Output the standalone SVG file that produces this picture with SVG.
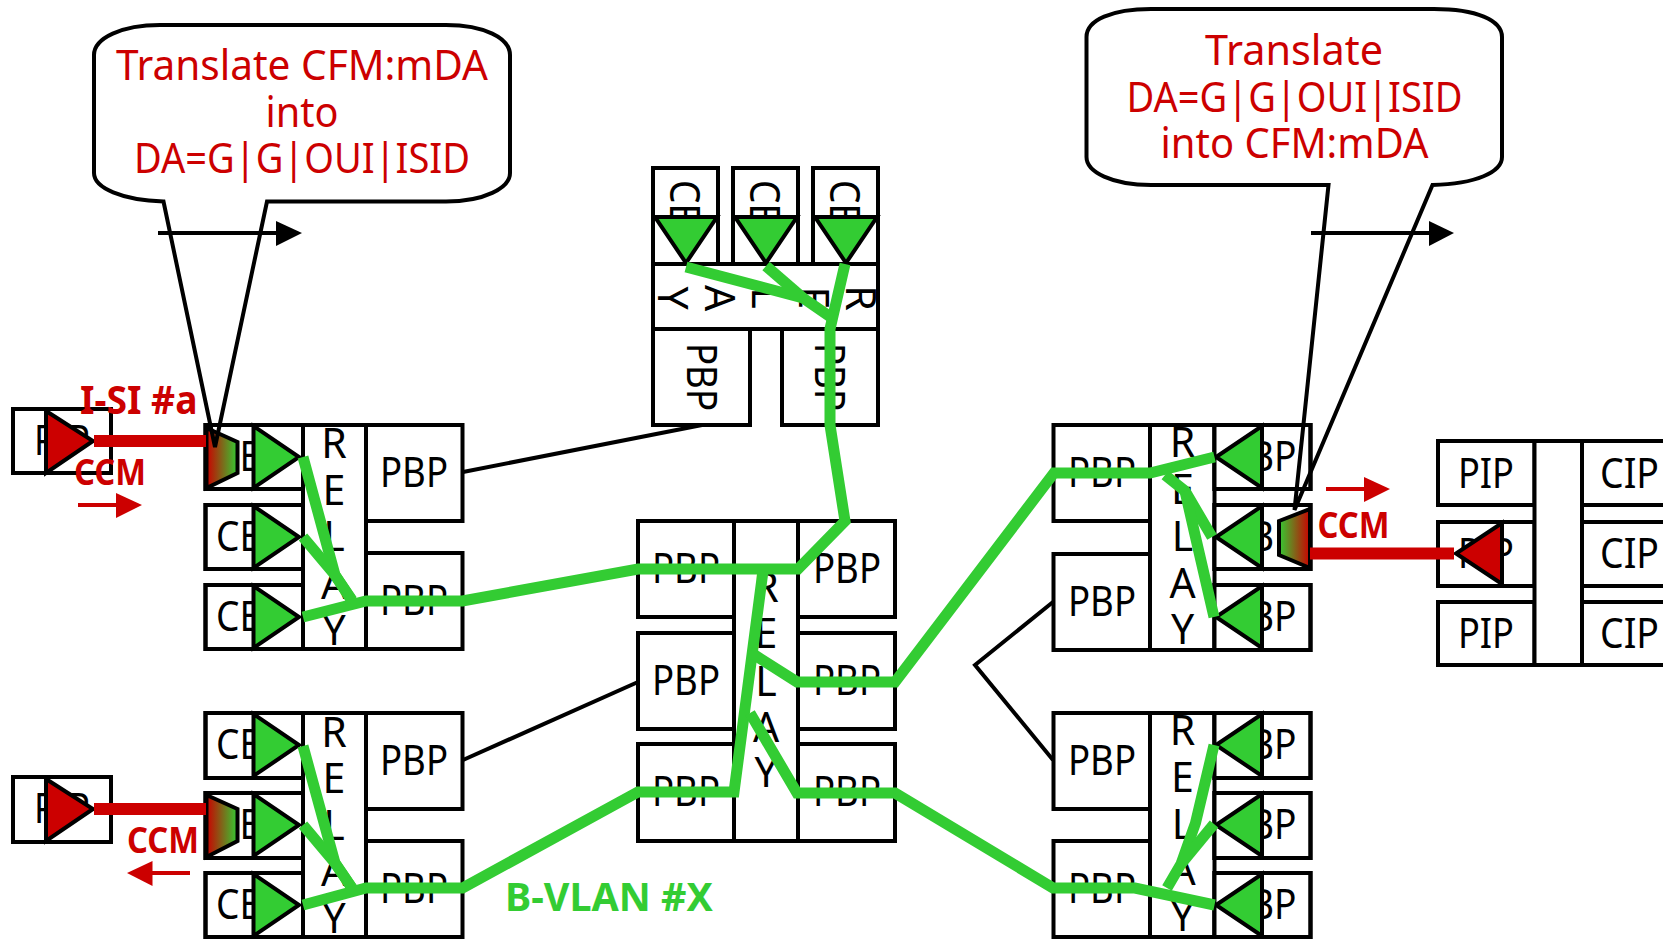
<svg xmlns="http://www.w3.org/2000/svg" width="1663" height="939" viewBox="0 0 1663 939">
<style>
rect.b{fill:#fff;stroke:#000;stroke-width:4}
rect.o{fill:none;stroke:#000;stroke-width:4}
rect.w{fill:#fff;stroke:none}
text{font-family:"Noto Sans","Liberation Sans",sans-serif;font-size:41px;fill:#000}
text.m{text-anchor:middle}
text.r{fill:#c00}
text.bd{font-weight:700;font-size:40px}
text.cc{font-size:36px}
polygon.g{fill:#3c3;stroke:#000;stroke-width:4}
polygon.red{fill:#c00;stroke:#000;stroke-width:4}
polygon.t{stroke:#000;stroke-width:4}
polyline.gl{fill:none;stroke:#3c3;stroke-width:11;stroke-linejoin:miter;stroke-miterlimit:2}
path.c{fill:none;stroke:#000;stroke-width:4}
line.k{stroke:#000;stroke-width:4}
line.rl{stroke:#c00;stroke-width:12}
line.ra{stroke:#c00;stroke-width:4}
</style>
<defs>
<linearGradient id="rg"><stop offset="0" stop-color="#c00"/><stop offset="1" stop-color="#3c3"/></linearGradient>
<linearGradient id="gr"><stop offset="0" stop-color="#3c3"/><stop offset="1" stop-color="#c00"/></linearGradient>
</defs>

<g id="pip-top-left">
<rect class="b" x="13" y="409" width="98" height="64"/>
<text x="34" y="455" textLength="56" lengthAdjust="spacingAndGlyphs">PIP</text>
<polygon class="red" points="46,411 46,473 93,441"/>
</g>
<g id="pip-bottom-left">
<rect class="b" x="13" y="777" width="98" height="65"/>
<text x="34" y="823" textLength="56" lengthAdjust="spacingAndGlyphs">PIP</text>
<polygon class="red" points="46,779 46,841 93,809"/>
</g>

<g id="bridge-top-left">
<rect class="b" x="205.500" y="425" width="97.500" height="64"/>
<text x="216" y="471" textLength="70" lengthAdjust="spacingAndGlyphs">CBP</text>
<rect class="w" x="255" y="427" width="46" height="60"/><rect class="o" x="205.500" y="425" width="97.500" height="64"/>
<polygon class="g" points="253.500,426 253.500,488 299,457"/>
<rect class="b" x="205.500" y="505" width="97.500" height="64"/>
<text x="216" y="551" textLength="70" lengthAdjust="spacingAndGlyphs">CBP</text>
<rect class="w" x="255" y="507" width="46" height="60"/><rect class="o" x="205.500" y="505" width="97.500" height="64"/>
<polygon class="g" points="253.500,506 253.500,568 299,537"/>
<rect class="b" x="205.500" y="585" width="97.500" height="64"/>
<text x="216" y="631" textLength="70" lengthAdjust="spacingAndGlyphs">CBP</text>
<rect class="w" x="255" y="587" width="46" height="60"/><rect class="o" x="205.500" y="585" width="97.500" height="64"/>
<polygon class="g" points="253.500,586 253.500,648 299,617"/>
<rect class="b" x="303" y="425" width="63" height="224"/>
<text class="m" x="334" y="458">R</text><text class="m" x="334" y="505">E</text><text class="m" x="334" y="551">L</text><text class="m" x="334" y="599">A</text><text class="m" x="334" y="645">Y</text>
<rect class="b" x="366" y="425" width="96.500" height="96"/>
<text class="m" x="414" y="487" textLength="68" lengthAdjust="spacingAndGlyphs">PBP</text>
<rect class="b" x="366" y="553" width="96.500" height="96"/>
<text class="m" x="414" y="615" textLength="68" lengthAdjust="spacingAndGlyphs">PBP</text>
<polygon class="t" fill="url(#rg)" points="206.500,428 237.500,442 237.500,473 206.500,488"/>
</g>

<g id="bridge-bottom-left">
<rect class="b" x="205.500" y="713" width="97.500" height="65"/>
<text x="216" y="759" textLength="70" lengthAdjust="spacingAndGlyphs">CBP</text>
<rect class="w" x="255" y="715" width="46" height="61"/><rect class="o" x="205.500" y="713" width="97.500" height="65"/>
<polygon class="g" points="253.500,714 253.500,776 299,745"/>
<rect class="b" x="205.500" y="793" width="97.500" height="65"/>
<text x="216" y="839" textLength="70" lengthAdjust="spacingAndGlyphs">CBP</text>
<rect class="w" x="255" y="795" width="46" height="61"/><rect class="o" x="205.500" y="793" width="97.500" height="65"/>
<polygon class="g" points="253.500,794 253.500,856 299,825"/>
<rect class="b" x="205.500" y="873" width="97.500" height="64"/>
<text x="216" y="919" textLength="70" lengthAdjust="spacingAndGlyphs">CBP</text>
<rect class="w" x="255" y="875" width="46" height="60"/><rect class="o" x="205.500" y="873" width="97.500" height="64"/>
<polygon class="g" points="253.500,874 253.500,936 299,905"/>
<rect class="b" x="303" y="713" width="63" height="224"/>
<text class="m" x="334" y="747">R</text><text class="m" x="334" y="793">E</text><text class="m" x="334" y="840">L</text><text class="m" x="334" y="886">A</text><text class="m" x="334" y="933">Y</text>
<rect class="b" x="366" y="713" width="96.500" height="96"/>
<text class="m" x="414" y="775" textLength="68" lengthAdjust="spacingAndGlyphs">PBP</text>
<rect class="b" x="366" y="841" width="96.500" height="96"/>
<text class="m" x="414" y="903" textLength="68" lengthAdjust="spacingAndGlyphs">PBP</text>
<polygon class="t" fill="url(#rg)" points="206.500,795 237.500,809 237.500,841 206.500,857"/>
</g>

<g id="bridge-top">
<rect class="b" x="653" y="168" width="65" height="96"/>
<text transform="translate(670,180) rotate(90)" textLength="70" lengthAdjust="spacingAndGlyphs">CBP</text>
<rect class="w" x="655" y="217" width="61" height="45"/><rect class="o" x="653" y="168" width="65" height="96"/>
<polygon class="g" points="655,217 717,217 686,263"/>
<rect class="b" x="733" y="168" width="65" height="96"/>
<text transform="translate(750,180) rotate(90)" textLength="70" lengthAdjust="spacingAndGlyphs">CBP</text>
<rect class="w" x="735" y="217" width="61" height="45"/><rect class="o" x="733" y="168" width="65" height="96"/>
<polygon class="g" points="735,217 797,217 766,263"/>
<rect class="b" x="813" y="168" width="65" height="96"/>
<text transform="translate(830,180) rotate(90)" textLength="70" lengthAdjust="spacingAndGlyphs">CBP</text>
<rect class="w" x="815" y="217" width="61" height="45"/><rect class="o" x="813" y="168" width="65" height="96"/>
<polygon class="g" points="815,217 877,217 846,263"/>
<rect class="b" x="653" y="264" width="225" height="65"/>
<text class="m" transform="translate(846,298) rotate(90)">R</text><text class="m" transform="translate(799,298) rotate(90)">E</text><text class="m" transform="translate(752,298) rotate(90)">L</text><text class="m" transform="translate(705,298) rotate(90)">A</text><text class="m" transform="translate(658,298) rotate(90)">Y</text>
<rect class="b" x="653" y="329" width="97" height="96"/>
<text class="m" transform="translate(687,377) rotate(90)" textLength="68" lengthAdjust="spacingAndGlyphs">PBP</text>
<rect class="b" x="782" y="329" width="96" height="96"/>
<text class="m" transform="translate(815,377) rotate(90)" textLength="68" lengthAdjust="spacingAndGlyphs">PBP</text>
</g>

<g id="bridge-center">
<rect class="b" x="638" y="521" width="96" height="96"/><text class="m" x="686" y="583" textLength="68" lengthAdjust="spacingAndGlyphs">PBP</text>
<rect class="b" x="638" y="633" width="96" height="96"/><text class="m" x="686" y="695" textLength="68" lengthAdjust="spacingAndGlyphs">PBP</text>
<rect class="b" x="638" y="744" width="96" height="97"/><text class="m" x="686" y="806" textLength="68" lengthAdjust="spacingAndGlyphs">PBP</text>
<rect class="b" x="734" y="521" width="64" height="320"/>
<text class="m" x="766" y="602">R</text><text class="m" x="766" y="648">E</text><text class="m" x="766" y="696">L</text><text class="m" x="766" y="742">A</text><text class="m" x="766" y="787">Y</text>
<rect class="b" x="798" y="521" width="97" height="96"/><text class="m" x="847" y="583" textLength="68" lengthAdjust="spacingAndGlyphs">PBP</text>
<rect class="b" x="798" y="633" width="97" height="96"/><text class="m" x="847" y="695" textLength="68" lengthAdjust="spacingAndGlyphs">PBP</text>
<rect class="b" x="798" y="744" width="97" height="97"/><text class="m" x="847" y="806" textLength="68" lengthAdjust="spacingAndGlyphs">PBP</text>
</g>

<g id="bridge-top-right">
<rect class="b" x="1053.500" y="425" width="96.500" height="96"/><text class="m" x="1102" y="487" textLength="68" lengthAdjust="spacingAndGlyphs">PBP</text>
<rect class="b" x="1053.500" y="554" width="96.500" height="96"/><text class="m" x="1102" y="616" textLength="68" lengthAdjust="spacingAndGlyphs">PBP</text>
<rect class="b" x="1150" y="425" width="64.500" height="225"/>
<text class="m" x="1182.500" y="457">R</text><text class="m" x="1182.500" y="504">E</text><text class="m" x="1182.500" y="551">L</text><text class="m" x="1182.500" y="598">A</text><text class="m" x="1182.500" y="644">Y</text>
<rect class="b" x="1214.500" y="425" width="96" height="64"/>
<text x="1296.500" y="471" text-anchor="end" textLength="70" lengthAdjust="spacingAndGlyphs">CBP</text>
<rect class="w" x="1216" y="427" width="46" height="60"/><rect class="o" x="1214.500" y="425" width="96" height="64"/>
<polygon class="g" points="1262,426 1262,488 1216,457"/>
<rect class="b" x="1214.500" y="505" width="96" height="64"/>
<text x="1296.500" y="551" text-anchor="end" textLength="70" lengthAdjust="spacingAndGlyphs">CBP</text>
<rect class="w" x="1216" y="507" width="46" height="60"/><rect class="o" x="1214.500" y="505" width="96" height="64"/>
<polygon class="g" points="1262,506 1262,568 1216,537"/>
<rect class="b" x="1214.500" y="585" width="96" height="65"/>
<text x="1296.500" y="631" text-anchor="end" textLength="70" lengthAdjust="spacingAndGlyphs">CBP</text>
<rect class="w" x="1216" y="587" width="46" height="61"/><rect class="o" x="1214.500" y="585" width="96" height="65"/>
<polygon class="g" points="1262,586 1262,648 1216,617"/>
<polygon class="t" fill="url(#gr)" points="1279,521 1310,509 1310,568 1279,555"/>
</g>

<g id="bridge-bottom-right">
<rect class="b" x="1053.500" y="713" width="96.500" height="96"/><text class="m" x="1102" y="775" textLength="68" lengthAdjust="spacingAndGlyphs">PBP</text>
<rect class="b" x="1053.500" y="841" width="96.500" height="96"/><text class="m" x="1102" y="903" textLength="68" lengthAdjust="spacingAndGlyphs">PBP</text>
<rect class="b" x="1150" y="713" width="64.500" height="224"/>
<text class="m" x="1182.500" y="745">R</text><text class="m" x="1182.500" y="792">E</text><text class="m" x="1182.500" y="839">L</text><text class="m" x="1182.500" y="885">A</text><text class="m" x="1182.500" y="931">Y</text>
<rect class="b" x="1214.500" y="713" width="96" height="65"/>
<text x="1296.500" y="759" text-anchor="end" textLength="70" lengthAdjust="spacingAndGlyphs">CBP</text>
<rect class="w" x="1216" y="715" width="46" height="61"/><rect class="o" x="1214.500" y="713" width="96" height="65"/>
<polygon class="g" points="1262,714 1262,776 1216,745"/>
<rect class="b" x="1214.500" y="793" width="96" height="65"/>
<text x="1296.500" y="839" text-anchor="end" textLength="70" lengthAdjust="spacingAndGlyphs">CBP</text>
<rect class="w" x="1216" y="795" width="46" height="61"/><rect class="o" x="1214.500" y="793" width="96" height="65"/>
<polygon class="g" points="1262,794 1262,856 1216,825"/>
<rect class="b" x="1214.500" y="873" width="96" height="64"/>
<text x="1296.500" y="919" text-anchor="end" textLength="70" lengthAdjust="spacingAndGlyphs">CBP</text>
<rect class="w" x="1216" y="875" width="46" height="60"/><rect class="o" x="1214.500" y="873" width="96" height="64"/>
<polygon class="g" points="1262,874 1262,936 1216,905"/>
</g>

<g id="pip-cip-right">
<rect class="b" x="1438" y="441" width="96.500" height="64"/><text class="m" x="1486" y="488" textLength="56" lengthAdjust="spacingAndGlyphs">PIP</text>
<rect class="b" x="1438" y="522" width="96.500" height="64"/><text class="m" x="1486" y="568" textLength="56" lengthAdjust="spacingAndGlyphs">PIP</text>
<rect class="b" x="1438" y="602" width="96.500" height="63"/><text class="m" x="1486" y="648" textLength="56" lengthAdjust="spacingAndGlyphs">PIP</text>
<rect class="b" x="1534.500" y="441" width="47.500" height="224"/>
<rect class="b" x="1582" y="441" width="97" height="64"/><text x="1600" y="488" textLength="59" lengthAdjust="spacingAndGlyphs">CIP</text>
<rect class="b" x="1582" y="522" width="97" height="64"/><text x="1600" y="568" textLength="59" lengthAdjust="spacingAndGlyphs">CIP</text>
<rect class="b" x="1582" y="602" width="97" height="63"/><text x="1600" y="648" textLength="59" lengthAdjust="spacingAndGlyphs">CIP</text>
<polygon class="red" points="1502,523 1502,584 1456,553.500"/>
</g>

<g id="connectors">
<line class="k" x1="463" y1="472" x2="702" y2="425"/>
<line class="k" x1="463" y1="760" x2="638" y2="682"/>
<polyline points="1053,602 975,665 1053,760" fill="none" stroke="#000" stroke-width="4"/>
<line class="rl" x1="94" y1="441" x2="206" y2="441"/>
<line class="rl" x1="94" y1="809" x2="206" y2="809"/>
<line class="rl" x1="1310" y1="553.500" x2="1454" y2="553.500"/>
<polyline class="gl" points="303,457 335,575 352,600"/>
<polyline class="gl" points="303,537 335,575 352,601"/>
<polyline class="gl" points="303,617 366,601 462.500,601 638,569 798,569 845,521 830,425 830,329 845,264"/>
<polyline class="gl" points="686,267 803,298 832,318"/>
<polyline class="gl" points="766,266 803,298"/>
<polyline class="gl" points="303,746 335,863 352,888"/>
<polyline class="gl" points="303,825 335,863 352,888"/>
<polyline class="gl" points="303,905 366,888 462.500,888 638,792 734,792 763,571"/>
<polyline class="gl" points="750,652 797,682 895,682 1054,473 1150,473 1214.500,457"/>
<polyline class="gl" points="750,713 797,793 895,793 1053,888 1135,888 1214.500,905"/>
<polyline class="gl" points="1165,475 1185,491 1212,537"/>
<polyline class="gl" points="1185,491 1195.500,537 1214,617"/>
<polyline class="gl" points="1214,745 1195.500,823 1181,864 1167,888"/>
<polyline class="gl" points="1214,824 1181,864"/>
</g>

<g id="labels">
<text class="r bd" x="80" y="414" textLength="117.500" lengthAdjust="spacingAndGlyphs">I-SI #a</text>
<text class="r bd cc" x="74" y="485" textLength="72" lengthAdjust="spacingAndGlyphs">CCM</text>
<text class="r bd cc" x="127" y="853" textLength="72" lengthAdjust="spacingAndGlyphs">CCM</text>
<text class="r bd cc" x="1317.500" y="537.500" textLength="72" lengthAdjust="spacingAndGlyphs">CCM</text>
<text class="bd" x="505" y="911" textLength="208" lengthAdjust="spacingAndGlyphs" style="fill:#3c3">B-VLAN #X</text>
<line class="ra" x1="78" y1="505" x2="118" y2="505"/><polygon fill="#c00" points="116,493 142,505 116,518"/>
<line class="ra" x1="150" y1="873" x2="190" y2="873"/><polygon fill="#c00" points="152.500,861 127,873 152.500,886"/>
<line class="ra" x1="1326" y1="489" x2="1366" y2="489"/><polygon fill="#c00" points="1364,477 1390,489 1364,502"/>
<line class="k" x1="158" y1="233" x2="278" y2="233"/><polygon points="276,221 302,233 276,246"/>
<line class="k" x1="1311" y1="233" x2="1431" y2="233"/><polygon points="1429,221 1454,233 1429,246"/>
</g>

<g id="callout-left">
<path class="c" d="M163.500,201.500 C122,200 94,188 94,173 L94,55 C94,38 122,25 160,25 L446,25 C484,25 510,38 510,55 L510,173 C510,188 484,201.500 446,201.500 L267,201.500 L215,447 L163.500,201.500 Z"/>
<text class="m r" x="302" y="80" textLength="372" lengthAdjust="spacingAndGlyphs">Translate CFM:mDA</text>
<text class="m r" x="302" y="127" textLength="73" lengthAdjust="spacingAndGlyphs">into</text>
<text class="m r" x="302" y="173" textLength="336" lengthAdjust="spacingAndGlyphs">DA=G|G|OUI|ISID</text>
</g>
<g id="callout-right">
<path class="c" d="M1328.500,185 L1151,185 C1112,185 1086.500,172 1086.500,157 L1086.500,37 C1086.500,20 1112,9 1151,9 L1434,9 C1476,9 1502,20 1502,37 L1502,157 C1502,172 1476,184 1432.500,185 L1294.500,510 L1328.500,185 Z"/>
<text class="m r" x="1294" y="65" textLength="178" lengthAdjust="spacingAndGlyphs">Translate</text>
<text class="m r" x="1294.500" y="111.500" textLength="336" lengthAdjust="spacingAndGlyphs">DA=G|G|OUI|ISID</text>
<text class="m r" x="1294.500" y="157.500" textLength="268" lengthAdjust="spacingAndGlyphs">into CFM:mDA</text>
</g>
</svg>
